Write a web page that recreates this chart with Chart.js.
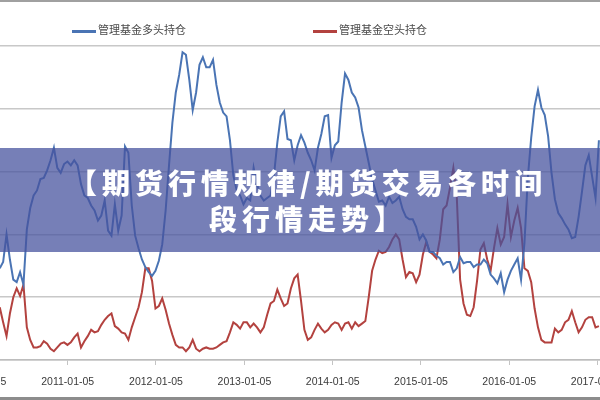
<!DOCTYPE html>
<html lang="zh-CN">
<head>
<meta charset="UTF-8">
<title>管理基金多头持仓 / 管理基金空头持仓</title>
<script src="https://cdn.jsdelivr.net/npm/chart.js"></script>
<style>
  body { margin: 0; background: #fff; }
  .wrap { position: relative; width: 600px; height: 400px; overflow: hidden; }
  .legend-item {
    position: absolute; top: 21px; height: 16px; line-height: 16px;
    font: 11px "Noto Sans CJK SC", sans-serif; color: #4a4a4a; white-space: nowrap;
  }
  .legend-item i {
    display: inline-block; width: 24px; height: 3px; margin-right: 2px; vertical-align: middle;
  }
  .banner {
    position: absolute; left: 0; top: 148px; width: 600px; height: 104px;
    box-sizing: border-box; padding: 16px 0 0 16px;
    background: rgba(70, 82, 158, 0.74);
    color: #fff; text-align: center;
    font: 900 28px/36px "Noto Sans CJK SC", sans-serif; letter-spacing: 5px;
  }
  .edge { position: absolute; left: 0; width: 600px; }
  .edge.top { top: 0; height: 2px; background: #a0a0a0; }
  .edge.bottom { bottom: 0; height: 3px; background: #8c8c8c; }
</style>
</head>
<body>
<div class="wrap">
  <canvas id="cotChart" width="600" height="400"></canvas>
  <div id="legend"></div>
  <div class="banner">【期货行情规律/期货交易各时间<br>段行情走势】</div>
  <div class="edge top"></div>
  <div class="edge bottom"></div>
</div>

<script>
  // 两周一个数据点，从 2010-03-30 开始（单位：千手）
  const startDate = '2010-03-30';
  const stepDays = 14;
  const baseDate = '2010-01-05';

  const seriesNames = ['管理基金多头持仓', '管理基金空头持仓'];
  const seriesColors = ['#4a74b4', '#b3423f'];

  const longPositions = [
    73, 78, 100, 80, 64, 62, 70, 60, 104, 121,
    131, 135, 144, 145, 151, 159, 169, 153, 149, 156,
    158, 155, 159, 155, 140, 131, 129, 123, 119, 111,
    115, 127, 103, 99, 124, 103, 115, 170, 165, 123,
    99, 89, 80, 74, 70, 67, 71, 79, 92, 119,
    155, 189, 213, 227, 245, 243, 223, 199, 213, 235,
    241, 233, 233, 239, 219, 205, 197, 194, 175, 147,
    135, 131, 124, 129, 127, 153, 140, 131, 127, 129,
    131, 147, 173, 194, 198, 176, 175, 159, 171, 179,
    173, 165, 159, 151, 169, 180, 194, 195, 161, 171,
    174, 205, 228, 223, 213, 209, 201, 183, 170, 157,
    144, 135, 126, 127, 123, 130, 125, 127, 130, 120,
    114, 112, 112, 106, 96, 100, 95, 86, 86, 83,
    81, 76, 78, 78, 70, 73, 82, 77, 78, 78,
    74, 76, 76, 80, 77, 68, 65, 61, 69, 54,
    64, 71, 76, 81, 64, 93, 145, 177, 202, 215,
    201, 195, 178, 149, 128, 117, 113, 108, 104, 97,
    98, 114, 134, 155, 163, 146, 129, 175
  ];

  const shortPositions = [
    42, 30, 19, 37, 50, 57, 51, 60, 26, 16,
    10, 10, 11, 15, 13, 9, 7, 10, 13, 14,
    12, 14, 18, 21, 10, 15, 19, 24, 22, 23,
    28, 32, 35, 37, 27, 25, 22, 21, 16, 26,
    34, 42, 54, 73, 73, 63, 41, 43, 49, 40,
    29, 20, 12, 10, 10, 7, 10, 16, 9, 7,
    9, 10, 9, 9, 10, 12, 14, 15, 22, 30,
    28, 25, 30, 30, 26, 29, 26, 22, 26, 36,
    45, 47, 56, 49, 43, 45, 57, 65, 68, 47,
    24, 16, 18, 24, 29, 25, 22, 24, 28, 30,
    29, 24, 29, 30, 25, 30, 27, 29, 31, 50,
    71, 80, 87, 85, 86, 90, 96, 100, 96, 80,
    66, 70, 69, 62, 68, 84, 94, 86, 84, 81,
    96, 120, 123, 137, 153, 131, 64, 45, 36, 35,
    42, 63, 88, 93, 80, 71, 89, 105, 92, 98,
    124, 98, 111, 121, 105, 73, 71, 62, 41, 26,
    16, 14, 14, 14, 25, 22, 24, 30, 32, 39,
    30, 22, 26, 32, 34, 34, 26, 27
  ];

  const tickLabels = ['2010-01-05', '2011-01-05', '2012-01-05', '2013-01-05',
                      '2014-01-05', '2015-01-05', '2016-01-05', '2017-01-05'];

  const DAY = 86400000;
  const dayOf = s => Math.round((Date.parse(s) - Date.parse(baseDate)) / DAY);
  const firstDay = dayOf(startDate);
  const tickDays = tickLabels.map(dayOf);

  const toPoints = arr => arr.map((v, i) => ({ x: firstDay + i * stepDays, y: v }));

  // 图例
  const legendLefts = [72, 313];
  document.getElementById('legend').innerHTML = seriesNames.map((n, k) =>
    '<div class="legend-item" style="left:' + legendLefts[k] + 'px"><i style="background:' +
    seriesColors[k] + '"></i>' + n + '</div>').join('');

  const xLabels = {
    id: 'xLabels',
    afterDraw(chart) {
      const ctx = chart.ctx;
      const x = chart.scales.x;
      ctx.save();
      ctx.font = '10.5px "Liberation Sans", Arial, sans-serif';
      ctx.fillStyle = '#3a3a3a';
      ctx.textAlign = 'center';
      ctx.textBaseline = 'middle';
      tickLabels.forEach((t, k) => ctx.fillText(t, x.getPixelForValue(tickDays[k]), x.top + 22));
      ctx.restore();
    }
  };

  new Chart(document.getElementById('cotChart').getContext('2d'), {
    type: 'line',
    data: {
      datasets: [
        { label: seriesNames[0], data: toPoints(longPositions), borderColor: seriesColors[0] },
        { label: seriesNames[1], data: toPoints(shortPositions), borderColor: seriesColors[1] }
      ]
    },
    options: {
      responsive: false,
      animation: false,
      devicePixelRatio: 1,
      layout: { padding: { top: 46, left: 0, right: 0, bottom: 0 } },
      elements: {
        line: { borderWidth: 2, tension: 0 },
        point: { radius: 0 }
      },
      plugins: { legend: { display: false }, tooltip: { enabled: false } },
      scales: {
        x: {
          type: 'linear',
          min: 85,
          max: 2566.5,
          afterBuildTicks: s => {
            s.ticks = tickDays.filter(d => d >= s.min && d <= s.max).map(v => ({ value: v }));
          },
          afterFit: s => { s.height = 40; },
          ticks: { display: false },
          grid: { drawOnChartArea: false, drawTicks: true, tickLength: 5, color: '#c4c4c4' },
          border: { display: true, color: '#bdbdbd', width: 1.5 }
        },
        y: {
          min: 0,
          max: 250,
          afterFit: s => { s.width = 0; },
          ticks: { display: false, stepSize: 50 },
          grid: { color: '#c8c8c8', lineWidth: 1.5, drawTicks: false },
          border: { display: false }
        }
      }
    },
    plugins: [xLabels]
  });
</script>
</body>
</html>
